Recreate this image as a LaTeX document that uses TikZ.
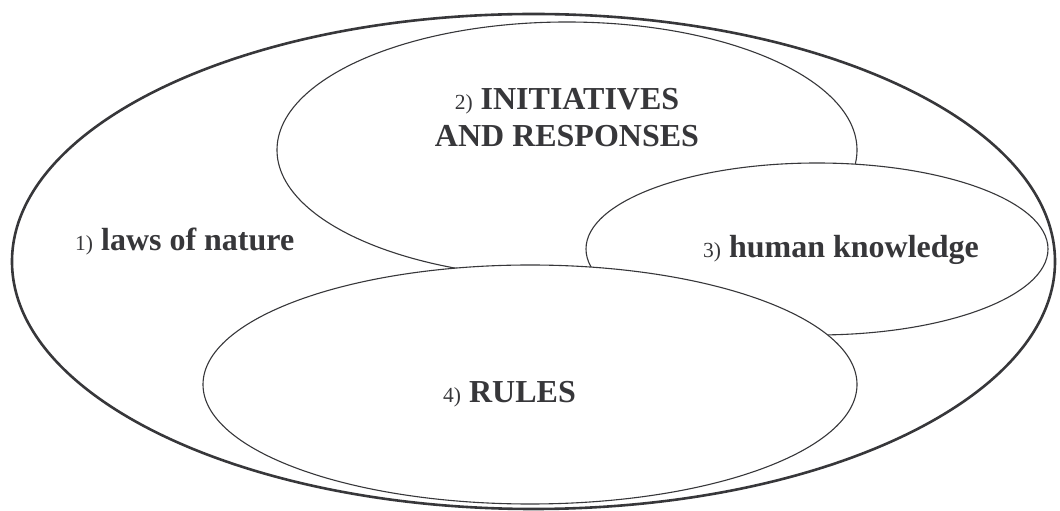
\documentclass[tikz,border=0pt]{standalone}
\usepackage{fontspec}
\setmainfont{Liberation Serif}
\definecolor{inkgray}{RGB}{55,55,58}
\newcommand{\numtxt}[1]{{\fontsize{21.5}{26}\selectfont\mdseries #1}}
\begin{document}
\begin{tikzpicture}[x=1pt, y=1pt,
    setline/.style={draw=inkgray, line width=1.1pt, fill=white},
    outerline/.style={draw=inkgray, line width=2.6pt, fill=white},
    setlabel/.style={text=inkgray, font=\fontsize{32}{37}\selectfont\bfseries, inner sep=0pt}]
  \useasboundingbox (0,0) rectangle (1060,511);
  % Drawing the nested sets, back to front
  \draw[outerline] (533.5,249.5) ellipse [x radius=521.5, y radius=247.5]; % Laws of nature
  \draw[setline] (567,361) ellipse [x radius=290, y radius=128]; % Initiatives and responses
  \draw[setline] (817,262) ellipse [x radius=231, y radius=86]; % Human knowledge
  \draw[setline] (530,126.5) ellipse [x radius=327, y radius=119.5]; % Rules

  % Labels of the sets
  \node[setlabel, anchor=base west] (nature) at (75,260) {\numtxt{1)} laws of nature};
  \node[setlabel, align=center] (initiatives) at (567,393) {\numtxt{2)} INITIATIVES\\AND RESPONSES};
  \node[setlabel, anchor=base west] (knowledge) at (703,253) {\numtxt{3)} human knowledge};
  \node[setlabel, anchor=base west] (rules) at (443,108) {\numtxt{4)} RULES};
\end{tikzpicture}
\end{document}
